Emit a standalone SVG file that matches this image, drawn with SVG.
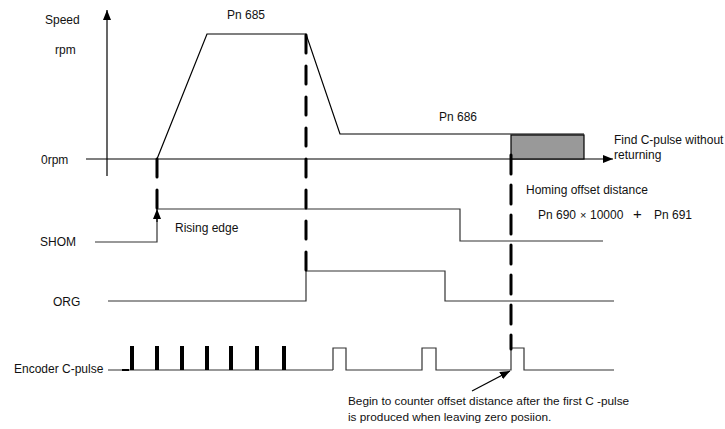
<svg xmlns="http://www.w3.org/2000/svg" width="725" height="429" viewBox="0 0 725 429">
<style>
text{font-family:"Liberation Sans",Arial,sans-serif;font-size:12px;fill:#111}
.small{font-size:11.8px}
.ax{stroke:#000;stroke-width:1.2;fill:none}
.sig{stroke:#333;stroke-width:1.2;fill:none}
.dash{stroke:#000;stroke-width:3;fill:none;stroke-dasharray:18 13;stroke-linecap:round}
.pulse{stroke:#000;stroke-width:4;fill:none}
</style>
<defs>
<marker id="ah" viewBox="0 0 10 8" refX="10" refY="4" markerWidth="10" markerHeight="8" markerUnits="userSpaceOnUse" orient="auto">
<path d="M0,0 L10,4 L0,8 Z" fill="#000"/>
</marker>
</defs>
<g id="axes">
<line class="ax" x1="107" y1="176" x2="107" y2="10" marker-end="url(#ah)"/>
<line class="ax" x1="86" y1="159" x2="613" y2="159" marker-end="url(#ah)"/>
</g>
<g id="labels">
<text x="45" y="24">Speed</text>
<text x="55" y="54">rpm</text>
<text x="41" y="164">0rpm</text>
<text x="227" y="19">Pn 685</text>
<text x="439" y="121">Pn 686</text>
<text x="614" y="144">Find C-pulse without</text>
<text x="614" y="159">returning</text>
<text x="526" y="194">Homing offset distance</text>
<text x="538" y="219">Pn 690<tspan x="580" font-size="11">×</tspan><tspan x="590">10000</tspan><tspan x="633" font-size="15">+</tspan><tspan x="654">Pn 691</tspan></text>
<text x="175" y="232">Rising edge</text>
<text x="40" y="246">SHOM</text>
<text x="53" y="306">ORG</text>
<text x="14" y="373">Encoder C-pulse</text>
<text x="348" y="405" class="small">Begin to counter offset distance after the first C -pulse</text>
<text x="348" y="421" class="small">is produced when leaving zero posiion.</text>
</g>
<g id="speed-profile">
<polyline class="ax" points="157,159 207,34 306,34 340,134 584,134"/>
<rect x="511" y="135" width="73" height="24" fill="#999" stroke="#000" stroke-width="1.2"/>
</g>
<g id="shom">
<polyline class="sig" points="95,242 157,242 157,218"/>
<line class="ax" x1="157" y1="222" x2="157" y2="209" marker-end="url(#ah)"/>
<polyline class="sig" points="157,209 460,209 460,241 603,241"/>
</g>
<g id="org">
<polyline class="sig" points="108,301 306,301 306,271 445,271 445,301 614,301"/>
</g>
<g id="encoder">
<line class="sig" x1="108" y1="370" x2="333" y2="370"/>
<line x1="122" y1="370" x2="129" y2="370" stroke="#000" stroke-width="2"/>
<line class="pulse" x1="132" y1="346" x2="132" y2="370"/>
<line class="pulse" x1="157" y1="346" x2="157" y2="370"/>
<line class="pulse" x1="182" y1="346" x2="182" y2="370"/>
<line class="pulse" x1="207" y1="346" x2="207" y2="370"/>
<line class="pulse" x1="231" y1="346" x2="231" y2="370"/>
<line class="pulse" x1="257" y1="346" x2="257" y2="370"/>
<line class="pulse" x1="284" y1="346" x2="284" y2="370"/>
<polyline class="sig" points="333,370 333,348 346,348 346,370 422,370 422,348 436,348 436,370 511,370 511,348 524,348 524,370 614,370"/>
</g>
<g id="connectors">
<line class="dash" x1="157" y1="159" x2="157" y2="208"/>
<line class="dash" x1="306" y1="35" x2="306" y2="272"/>
<line class="dash" x1="511" y1="155" x2="511" y2="349" style="stroke-dasharray:19 11"/>
<line class="ax" x1="472" y1="391" x2="510" y2="371" marker-end="url(#ah)"/>
</g>
</svg>
